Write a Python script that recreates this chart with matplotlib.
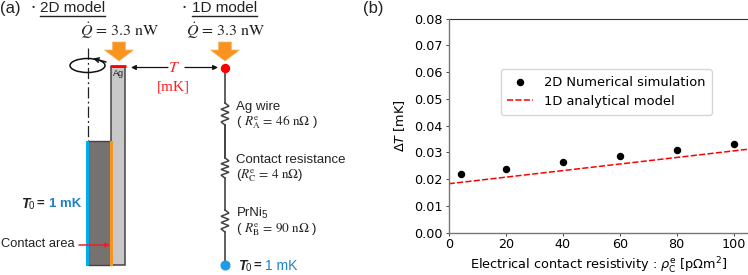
import matplotlib
matplotlib.use('Agg')
import matplotlib.pyplot as plt
from matplotlib.patches import Rectangle, Ellipse, Polygon, FancyArrowPatch
import numpy as np

# Data for panel (b)
rho_sim = [4.3, 20, 40, 60, 80, 100]
dT_sim = [0.0218, 0.0238, 0.0263, 0.0288, 0.0309, 0.0333]
rho_line = [0, 105]
dT_line = [0.0183, 0.0312]
xticks = [0, 20, 40, 60, 80, 100]
yticks = [0.00, 0.01, 0.02, 0.03, 0.04, 0.05, 0.06, 0.07, 0.08]

W, H = 748, 275
SANS = 'Liberation Sans'
plt.rcParams['mathtext.fontset'] = 'stix'

fig = plt.figure(figsize=(W / 100, H / 100), dpi=100)

# Chart (b)
ax = fig.add_axes([448.7 / W, 1 - 232.7 / H, (W - 448.7) / W, (232.7 - 18.7) / H])
ax.scatter(rho_sim, dT_sim, s=19, color='black', label='2D Numerical simulation', zorder=3)
ax.plot(rho_line, dT_line, color='red', ls=(0, (4, 1.5)), lw=1.1, label='1D analytical model')
ax.set_xlim(0, 105)
ax.set_ylim(0, 0.08)
ax.set_xticks(xticks)
ax.set_yticks(yticks)
ax.tick_params(labelsize=9.2, length=2.5, width=0.7, pad=2, color='#444444')
ax.tick_params(axis='x', pad=1)
ax.set_xlabel(r'Electrical contact resistivity : $\rho_{\mathrm{C}}^{\mathrm{e}}$ [p$\Omega$m$^2$]',
              fontsize=9.3, labelpad=3.5, math_fontfamily='dejavusans')
ax.set_ylabel(r'$\Delta T$ [mK]', fontsize=9.3, labelpad=5, math_fontfamily='dejavusans')
for side in ['top', 'right']:
    ax.spines[side].set_visible(False)
ax.plot([0, 1], [1, 1], transform=ax.transAxes, color='#333333', lw=0.8, clip_on=False)
for side in ['left', 'bottom']:
    ax.spines[side].set_color('#777777')
    ax.spines[side].set_linewidth(1.0)
ax.legend(loc='upper left', bbox_to_anchor=(0.174, 0.765), fontsize=9.4, borderaxespad=0,
          handlelength=2.0, labelspacing=0.5, borderpad=0.5)

# Schematic overlay, in pixel coordinates of the figure
s = fig.add_axes([0, 0, 1, 1], facecolor='none')
s.set_xlim(0, W)
s.set_ylim(H, 0)
s.axis('off')


def txt(x, y, t, size=9.5, color='#222222', family=SANS, **kw):
    s.text(x, y, t, fontsize=size, color=color, family=family, va='center', **kw)


def big_arrow(cx):
    pts = [(cx - 6.5, 42), (cx + 6.5, 42), (cx + 6.5, 50), (cx + 14.5, 50), (cx, 61),
           (cx - 14.5, 50), (cx - 6.5, 50)]
    s.add_patch(Polygon(pts, closed=True, facecolor='#F7931E', edgecolor='#F9B76A', lw=0.5, zorder=4))


def resistor(x, y0, y1):
    n = 6
    ys = np.linspace(y0, y1, n + 2)
    xs = [x] + [x + (4 if i % 2 == 0 else -4) for i in range(n)] + [x]
    s.plot(xs, ys, color='#444444', lw=1.1, zorder=3, solid_joinstyle='miter')


def t_zero(x, y):
    txt(x, y, 'T', size=10, fontstyle='italic', fontweight='bold')
    txt(x + 7.5, y + 2, '0', size=7)
    txt(x + 16, y, '=', size=9.5, fontweight='bold')


txt(0, 8, '(a)', size=12)
txt(27.5, 8, '・', size=8, family='Noto Sans CJK JP')
txt(40, 8, '2D model', size=11)
s.plot([40, 105.5], [15.5, 15.5], color='#222222', lw=1)
txt(178.5, 8, '・', size=8, family='Noto Sans CJK JP')
txt(192, 8, '1D model', size=11)
s.plot([192, 257], [15.5, 15.5], color='#222222', lw=1)

txt(80, 31, r'$\dot{Q}\,=\,3.3\ \mathrm{nW}$', size=11.5)
txt(186, 31, r'$\dot{Q}\,=\,3.3\ \mathrm{nW}$', size=11.5)
big_arrow(119)
big_arrow(225)

# 2D model
s.plot([88, 88], [48, 141], color='#222222', lw=0.9, ls=(0, (9, 2.5, 1.5, 2.5)))
s.add_patch(Rectangle((111.5, 67), 14, 198, facecolor='#C8C8C8', edgecolor='#444444', lw=1.1, zorder=2))
s.add_patch(Rectangle((88, 141), 23.5, 124, facecolor='#767270', edgecolor='#444444', lw=1.0, zorder=2))
s.add_patch(Rectangle((86, 141), 3, 124.5, facecolor='#00AEEF', edgecolor='none', zorder=3))
s.add_patch(Rectangle((110, 141), 3, 124.5, facecolor='#F7931E', edgecolor='none', zorder=3))
s.plot([110.5, 126], [66, 66], color='#FF0000', lw=2, solid_capstyle='butt', zorder=4)
txt(118.5, 74, 'Ag', size=6.5, ha='center')
s.add_patch(Ellipse((87.5, 65.5), 35, 14, fill=False, edgecolor='#111111', lw=1.1, zorder=5))
s.add_patch(FancyArrowPatch((106, 62), (93, 58.5), arrowstyle='->', mutation_scale=8, color='#111111', lw=1.1,
                            shrinkA=0, shrinkB=0, zorder=6))

# temperature arrows
s.add_patch(FancyArrowPatch((168, 67.5), (131, 67.5), arrowstyle='-|>', mutation_scale=7, color='#111111', lw=0.9,
                            shrinkA=0, shrinkB=0))
s.add_patch(FancyArrowPatch((185, 67.5), (218, 67.5), arrowstyle='-|>', mutation_scale=7, color='#111111', lw=0.9,
                            shrinkA=0, shrinkB=0))
txt(174.5, 67, r'$T$', size=11.5, color='#FF2020', ha='center')
txt(173, 87, '[mK]', size=11, color='#FF2020', family='Liberation Serif', ha='center')

# labels of the 2D model
t_zero(21, 204)
txt(49, 204, '1 mK', size=9.5, color='#1F82C8', fontweight='bold')
txt(1, 244, 'Contact area', size=9.3)
s.add_patch(FancyArrowPatch((79, 245), (110, 245), arrowstyle='-|>', mutation_scale=6, color='#E8202A', lw=1.1,
                            shrinkA=0, shrinkB=0, zorder=6))

# 1D model
s.plot([225, 225], [68, 103], color='#444444', lw=1.2, zorder=2)
resistor(225, 103, 125)
s.plot([225, 225], [125, 158], color='#222222', lw=1.2, zorder=2)
resistor(225, 158, 178)
s.plot([225, 225], [178, 210], color='#444444', lw=1.2, zorder=2)
resistor(225, 210, 232)
s.plot([225, 225], [232, 265], color='#444444', lw=1.2, zorder=2)
s.scatter([225], [68], s=33, color='#FF0000', zorder=5)
s.scatter([225], [265], s=39, color='#1E9BE6', zorder=5)

txt(236.5, 107, 'Ag wire', size=9.5)
txt(236.5, 122, r'( $R_{\mathrm{A}}^{\mathrm{e}}\,=\,46\ \mathrm{n\Omega}$ )', size=9.5)
txt(236.5, 160, 'Contact resistance', size=9.5)
txt(236.5, 176, r'($R_{\mathrm{C}}^{\mathrm{e}}\,=\,4\ \mathrm{n\Omega}$)', size=9.5)
txt(236.5, 213, 'PrNi', size=9.5)
txt(262, 215, '5', size=7)
txt(236.5, 230, r'( $R_{\mathrm{B}}^{\mathrm{e}}\,=\,90\ \mathrm{n\Omega}$ )', size=9.5)
t_zero(238, 266)
txt(265, 266, '1 mK', size=10, color='#1F82C8')

txt(363, 8, '(b)', size=12)

fig.savefig('out.png', dpi=100)
